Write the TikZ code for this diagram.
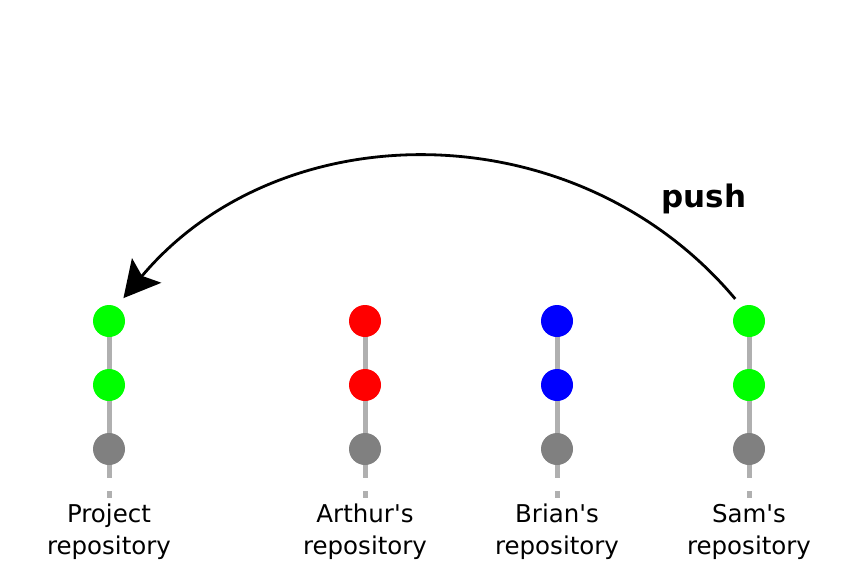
\documentclass[tikz,border=0pt]{standalone}
\usepackage{fontspec}
\setmainfont{DejaVu Sans}
\usetikzlibrary{arrows.meta}
\definecolor{cgreen}{RGB}{0,255,0}
\definecolor{cred}{RGB}{255,0,0}
\definecolor{cblue}{RGB}{0,0,255}
\definecolor{cgray}{RGB}{128,128,128}
\definecolor{lgray}{RGB}{176,176,176}
\begin{document}
\begin{tikzpicture}[x=1pt,y=-1pt,
  commit/.style={circle,minimum size=32pt,inner sep=0pt,draw=none,fill=#1},
  branch/.style={draw=lgray,line width=5pt},
  label/.style={align=center,font=\fontsize{24.5}{32}\selectfont},
  pusharrow/.style={line width=2.8pt,-{Stealth[length=36pt,width=38pt,inset=7pt]}}]
\useasboundingbox (0,0) rectangle (858,588);
\foreach \name/\x/\ca in {proj/109/cgreen, arth/365/cred, bria/557/cblue, sam/749/cgreen}{
  \coordinate (\name-end) at (\x,478);
  \draw[branch] (\x,321) -- (\name-end);
  \draw[draw=none,fill=lgray] (\x-2.5,491) rectangle (\x+2.5,498);
  \node[commit=\ca] (\name1) at (\x,321) {};
  \node[commit=\ca] (\name2) at (\x,385) {};
  \node[commit=cgray] (\name3) at (\x,449) {};
}
\node[label] (lproj) at (109,532) {Project\\repository};
\node[label] (larth) at (365,532) {Arthur\textquotesingle s\\repository};
\node[label] (lbria) at (557,532) {Brian\textquotesingle s\\repository};
\node[label] (lsam) at (749,532) {Sam\textquotesingle s\\repository};
\node[font=\fontsize{31}{36}\selectfont\bfseries] (push) at (704,199) {push};
\draw[pusharrow,shorten <=10pt,shorten >=11pt] (sam1.117) to[out=130,in=50,looseness=1.05] (proj1.63);
\end{tikzpicture}
\end{document}
